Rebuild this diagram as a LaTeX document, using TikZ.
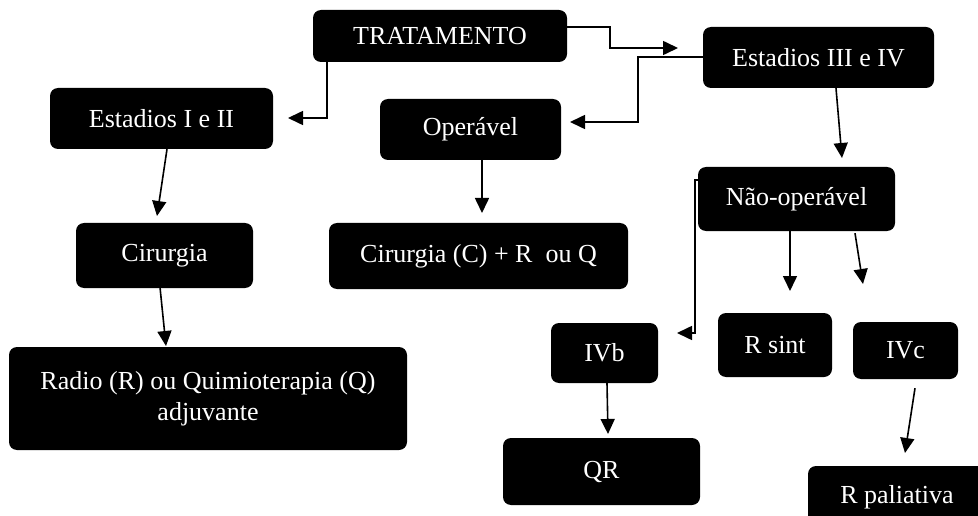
\documentclass[tikz,border=0pt]{standalone}
\usepackage{fontspec}
\setmainfont{Liberation Serif}
\usetikzlibrary{arrows.meta,calc}
\begin{document}
\begin{tikzpicture}[x=1pt,y=-1pt,
  box/.style={fill=black, rounded corners=8pt, text=white, inner sep=0pt, align=center,
    font=\fontsize{26}{31}\selectfont},
  arr/.style={line width=1.6pt, -{Triangle[length=15pt,width=14pt]}}]
\useasboundingbox (0,0) rectangle (978,516);
\clip (0,0) rectangle (978,516);
\fill[white] (0,0) rectangle (978,516);
% boxes
\node[box, minimum width=254pt, minimum height=52pt] (trat) at (440,36) {TRATAMENTO};
\node[box, minimum width=231pt, minimum height=61pt] (e34) at (818.5,57.5) {Estadios III e IV};
\node[box, minimum width=181pt, minimum height=61pt] (oper) at (470.5,129.5) {Operável};
\node[box, minimum width=223pt, minimum height=61pt] (e12) at (161.5,118.5) {Estadios I e II};
\node[box, minimum width=177pt, minimum height=65pt] (cir) at (164.5,255.5) {Cirurgia};
\node[box, minimum width=299pt, minimum height=66pt] (circ) at (478.5,256) {Cirurgia (C) + R\ \ ou Q};
\node[box, minimum width=398pt, minimum height=103pt] (radio) at (208,398.5) {Radio (R) ou Quimioterapia (Q)\\adjuvante};
\node[box, minimum width=197pt, minimum height=64pt] (nao) at (796.5,199) {Não-operável};
\node[box, minimum width=114pt, minimum height=64pt] (rsint) at (775,345) {R sint};
\node[box, minimum width=105pt, minimum height=57pt] (ivc) at (905.5,350.5) {IVc};
\node[box, minimum width=107pt, minimum height=60pt] (ivb) at (604.5,353) {IVb};
\node[box, minimum width=197pt, minimum height=67pt] (qr) at (601.5,471.5) {QR};
\node[box, minimum width=178pt, minimum height=62pt] (rpal) at (897,497) {R paliativa};
% arrow tips (free ends)
\coordinate (t1) at (678,48);
\coordinate (t2) at (570,122);
\coordinate (t3) at (288,118);
\coordinate (t4) at (157,216);
\coordinate (t5) at (166,346);
\coordinate (t6) at (482,213);
\coordinate (t7) at (842,158);
\coordinate (t8) at (677,333);
\coordinate (t9) at (790,291);
\coordinate (t10) at (863,284);
\coordinate (t11) at (608,434);
\coordinate (t12) at (905,453);
% connectors
\draw[arr] ([yshift=9pt]trat.east) -- (610,27) |- (t1);
\draw[arr] ([yshift=0.5pt]e34.west) -- (638,57) |- (t2);
\draw[arr] ([xshift=-113pt]trat.south) |- (t3);
\draw[arr] ([xshift=5.5pt]e12.south) -- (t4);
\draw[arr] ([xshift=-4.5pt,yshift=1pt]cir.south) -- (t5);
\draw[arr] ([xshift=11.5pt]oper.south) -- (t6);
\draw[arr] ([xshift=17.5pt]e34.south) -- (t7);
\draw[arr] ([yshift=19pt]nao.west) -- ++(-3,0) |- (t8);
\draw[arr] ([xshift=-6.5pt]nao.south) -- (t9);
\draw[arr] ([xshift=58.5pt,yshift=-2pt]nao.south) -- (t10);
\draw[arr] ([xshift=2.5pt]ivb.south) -- (t11);
\draw[arr] ([xshift=9.5pt,yshift=-9pt]ivc.south) -- (t12);
\end{tikzpicture}
\end{document}
